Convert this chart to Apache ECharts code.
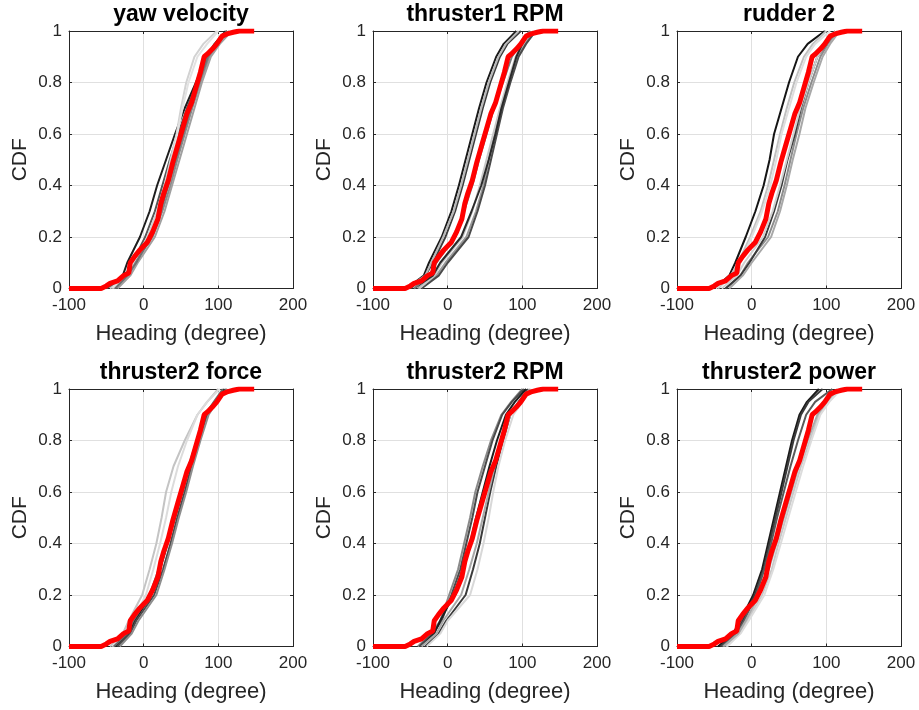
<!DOCTYPE html>
<html>
<head>
<meta charset="utf-8">
<script src="https://cdn.jsdelivr.net/npm/echarts@6/dist/echarts.min.js"></script>
<style>
  html, body { margin: 0; padding: 0; background: #fff; }
  #chart { width: 919px; height: 710px; }
</style>
</head>
<body>
<div id="chart"></div>
<script>
// ---------------- data ----------------
const panelTitles = ['yaw velocity', 'thruster1 RPM', 'rudder 2', 'thruster2 force', 'thruster2 RPM', 'thruster2 power'];
const xTicks = [-100, 0, 100, 200];
const yTicks = [0, 0.2, 0.4, 0.6, 0.8, 1];

// CDF levels at which the gray runs' headings were read
const cdfLevels = [0, 0.05, 0.1, 0.2, 0.3, 0.4, 0.5, 0.6, 0.7, 0.8, 0.9, 0.95, 1];

// red reference CDF (same in every panel)
const redHeading = [-100, -57, -50, -45, -35, -27, -20, -18, -12, -5, 5, 12, 19, 23, 27, 33, 39, 46, 52, 58, 64, 70, 76, 81, 85, 92, 98, 105, 113, 120, 128, 148];
const redCdf     = [0, 0, 0.01, 0.02, 0.03, 0.05, 0.06, 0.1, 0.125, 0.15, 0.18, 0.22, 0.27, 0.33, 0.37, 0.42, 0.49, 0.56, 0.62, 0.68, 0.72, 0.78, 0.84, 0.9, 0.91, 0.93, 0.95, 0.98, 0.99, 0.995, 1, 1];

// gray runs: heading (deg) at each cdf level
const yawVelocityRuns = [
  [-45, -28, -22, -5, 8, 18, 30, 42, 55, 70, 84, 95, 110],
  [-50, -25, -15, 2, 15, 25, 35, 46, 58, 72, 85, 97, 112],
  [-40, -20, -12, 12, 25, 36, 45, 55, 65, 76, 88, 100, 115],
  [-35, -18, -8, 15, 28, 38, 48, 58, 68, 78, 90, 102, 118],
  [-45, -22, -14, 5, 18, 28, 36, 44, 50, 57, 68, 80, 98],
  [-42, -24, -15, 8, 20, 30, 38, 45, 52, 60, 72, 85, 100],
  [-38, -22, -10, 10, 23, 33, 43, 53, 63, 74, 86, 98, 112]
];
const thruster1RpmRuns = [
  [-55, -32, -25, -8, 5, 15, 24, 33, 42, 52, 65, 75, 92],
  [-50, -30, -20, -3, 10, 20, 29, 38, 47, 57, 70, 80, 98],
  [-55, -30, -22, -6, 8, 18, 27, 36, 45, 55, 68, 78, 95],
  [-40, -15, -3, 25, 38, 48, 55, 63, 72, 82, 93, 103, 115],
  [-35, -12, 0, 28, 40, 50, 58, 66, 74, 84, 95, 105, 118],
  [-38, -18, -8, 20, 33, 43, 52, 61, 70, 80, 91, 101, 112],
  [-45, -20, -10, 18, 32, 45, 55, 64, 72, 82, 92, 100, 110],
  [-45, -25, -15, 10, 22, 33, 42, 52, 62, 74, 86, 97, 110]
];
const rudder2Runs = [
  [-50, -30, -22, -8, 5, 16, 24, 30, 40, 50, 62, 75, 98],
  [-45, -28, -18, -2, 12, 22, 30, 38, 47, 57, 70, 82, 100],
  [-48, -25, -15, 0, 14, 25, 33, 40, 50, 60, 73, 85, 105],
  [-35, -15, -5, 22, 35, 44, 52, 60, 69, 80, 92, 102, 115],
  [-35, -15, -3, 18, 30, 40, 48, 58, 66, 76, 88, 100, 112],
  [-30, -12, 0, 26, 38, 47, 55, 64, 72, 83, 95, 105, 118],
  [-40, -20, -10, 15, 28, 38, 47, 56, 65, 76, 88, 99, 112]
];
const thruster2ForceRuns = [
  [-45, -28, -20, -2, 8, 17, 24, 30, 40, 55, 72, 85, 100],
  [-42, -25, -15, 3, 13, 22, 30, 37, 46, 58, 72, 85, 102],
  [-38, -20, -12, 10, 22, 32, 42, 52, 61, 72, 83, 95, 108],
  [-35, -18, -10, 14, 26, 36, 45, 55, 64, 74, 85, 96, 110],
  [-32, -16, -7, 17, 28, 38, 47, 57, 66, 76, 87, 98, 112],
  [-40, -22, -14, 8, 20, 30, 40, 50, 60, 71, 82, 94, 106]
];
const thruster2RpmRuns = [
  [-40, -22, -10, 2, 14, 22, 30, 37, 47, 58, 72, 85, 100],
  [-38, -20, -8, 5, 17, 25, 33, 40, 50, 60, 73, 86, 102],
  [-35, -18, -10, 8, 20, 30, 38, 47, 56, 66, 78, 90, 105],
  [-30, -12, -2, 24, 34, 43, 50, 57, 65, 74, 84, 95, 108],
  [-28, -10, 0, 30, 40, 48, 55, 61, 68, 77, 88, 100, 112],
  [-35, -15, -6, 18, 29, 39, 47, 55, 63, 73, 84, 96, 110]
];
const thruster2PowerRuns = [
  [-45, -25, -15, 2, 14, 22, 30, 38, 46, 54, 64, 74, 90],
  [-42, -22, -12, 4, 16, 24, 32, 40, 48, 56, 66, 76, 95],
  [-40, -20, -10, 6, 17, 26, 34, 43, 52, 62, 73, 85, 108],
  [-35, -16, -6, 14, 27, 36, 46, 56, 66, 78, 90, 102, 118],
  [-33, -15, -4, 17, 29, 39, 49, 59, 69, 80, 92, 104, 120],
  [-38, -18, -8, 10, 23, 33, 43, 53, 63, 75, 88, 100, 115]
];
const panelRuns = [yawVelocityRuns, thruster1RpmRuns, rudder2Runs, thruster2ForceRuns, thruster2RpmRuns, thruster2PowerRuns];

// ---------------- styles ----------------
const panelGrays = [
  ['#1e1e1e', '#555555', '#8a8a8a', '#a0a0a0', '#d2d2d2', '#e2e2e2', '#707070'],
  ['#1a1a1a', '#3c3c3c', '#b8b8b8', '#9a9a9a', '#4a4a4a', '#c8c8c8', '#2a2a2a', '#7a7a7a'],
  ['#151515', '#c0c0c0', '#dedede', '#8c8c8c', '#3a3a3a', '#a8a8a8', '#d0d0d0'],
  ['#c4c4c4', '#dcdcdc', '#1f1f1f', '#4a4a4a', '#8e8e8e', '#6a6a6a'],
  ['#8a8a8a', '#4a4a4a', '#1e1e1e', '#3a3a3a', '#d8d8d8', '#a8a8a8'],
  ['#1a1a1a', '#3a3a3a', '#5a5a5a', '#c8c8c8', '#dcdcdc', '#aaaaaa']
];
const gridLefts = [69, 373, 677];
const gridTops = [31, 389];
const gridW = 224, gridH = 257.5;
const axisColor = '#262626';
const font = 'Liberation Sans, Arial, Helvetica, sans-serif';

const grids = [], xAxes = [], yAxes = [], series = [], titles = [];
for (let i = 0; i < 6; i++) {
  const left = gridLefts[i % 3], top = gridTops[Math.floor(i / 3)];
  grids.push({ left: left, top: top, width: gridW, height: gridH, containLabel: false });
  titles.push({
    text: panelTitles[i], left: left + gridW / 2, top: top - 28, textAlign: 'center', padding: 0,
    textStyle: { fontFamily: font, fontSize: 23, fontWeight: 'bold', color: '#000' }
  });
}
for (let i = 0; i < 6; i++) {
  xAxes.push({
    type: 'value', gridIndex: i, min: xTicks[0], max: xTicks[xTicks.length - 1], interval: 100,
    position: 'bottom',
    name: 'Heading (degree)', nameLocation: 'middle', nameGap: 34,
    nameTextStyle: { fontFamily: font, fontSize: 22, color: axisColor },
    axisLine: { show: true, onZero: false, lineStyle: { color: axisColor, width: 1 } },
    axisTick: { show: true, inside: true, length: 3, lineStyle: { color: axisColor } },
    axisLabel: { fontFamily: font, fontSize: 17, color: axisColor, margin: 8 },
    splitLine: { show: true, lineStyle: { color: '#e0e0e0', width: 1 } }
  });
  yAxes.push({
    type: 'value', gridIndex: i, min: yTicks[0], max: yTicks[yTicks.length - 1], interval: 0.2,
    position: 'left',
    name: 'CDF', nameLocation: 'middle', nameGap: 38, nameRotate: 90,
    nameTextStyle: { fontFamily: font, fontSize: 21, color: axisColor },
    axisLine: { show: true, onZero: false, lineStyle: { color: axisColor, width: 1 } },
    axisTick: { show: true, inside: true, length: 3, lineStyle: { color: axisColor } },
    axisLabel: { fontFamily: font, fontSize: 17, color: axisColor, margin: 7 },
    splitLine: { show: true, lineStyle: { color: '#e0e0e0', width: 1 } }
  });
}
for (let i = 0; i < 6; i++) {
  xAxes.push({
    type: 'value', gridIndex: i, min: xTicks[0], max: xTicks[xTicks.length - 1], interval: 100,
    position: 'top',
    axisLine: { show: true, onZero: false, lineStyle: { color: axisColor, width: 1 } },
    axisTick: { show: true, inside: true, length: 3, lineStyle: { color: axisColor } },
    axisLabel: { show: false }, splitLine: { show: false }
  });
  yAxes.push({
    type: 'value', gridIndex: i, min: yTicks[0], max: yTicks[yTicks.length - 1], interval: 0.2,
    position: 'right',
    axisLine: { show: true, onZero: false, lineStyle: { color: axisColor, width: 1 } },
    axisTick: { show: true, inside: true, length: 3, lineStyle: { color: axisColor } },
    axisLabel: { show: false }, splitLine: { show: false }
  });
}
for (let i = 0; i < 6; i++) {
  panelRuns[i].forEach(function (run, j) {
    series.push({
      type: 'line', xAxisIndex: i, yAxisIndex: i, showSymbol: false, silent: true,
      data: run.map(function (x, k) { return [x, cdfLevels[k]]; }),
      lineStyle: { color: panelGrays[i][j], width: 2 }, z: 2
    });
  });
  series.push({
    type: 'line', xAxisIndex: i, yAxisIndex: i, showSymbol: false, silent: true,
    data: redHeading.map(function (x, k) { return [x, redCdf[k]]; }),
    lineStyle: { color: '#ff0000', width: 5 }, z: 5
  });
}

const chart = echarts.init(document.getElementById('chart'), null, { renderer: 'canvas' });
chart.setOption({
  backgroundColor: '#ffffff',
  animation: false,
  title: titles,
  grid: grids,
  xAxis: xAxes,
  yAxis: yAxes,
  series: series
});
</script>
</body>
</html>
